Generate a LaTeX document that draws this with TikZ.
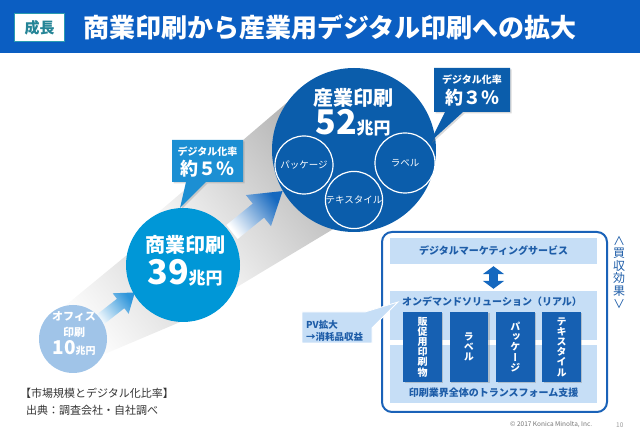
\documentclass[tikz,border=0pt]{standalone}
\usepackage{fontspec}
\setmainfont{Noto Sans CJK JP}
\newfontfamily\vertjp{Noto Sans CJK JP}[RawFeature=+vert]
\usetikzlibrary{positioning, shadows, arrows.meta}
\definecolor{hdrblue}{HTML}{0B5EC2}
\definecolor{tagteal}{HTML}{2A9BB0}
\definecolor{officeblue}{HTML}{A0C4E8}
\definecolor{commblue}{HTML}{0097D7}
\definecolor{indblue}{HTML}{0B5DAB}
\definecolor{callfive}{HTML}{1C8FD3}
\definecolor{panelframe}{HTML}{1A62B8}
\definecolor{panellight}{HTML}{C6DEF6}
\definecolor{itemblue}{HTML}{1660B2}
\definecolor{textblue}{HTML}{1E5DA8}
\definecolor{arrowone}{HTML}{2E95DA}
\definecolor{arrowtwo}{HTML}{1568BF}
\newcommand\fsz[1]{\fontsize{#1}{#1}\selectfont}

\begin{document}
\begin{tikzpicture}[
    x = 1pt, y = -1pt,
    market/.style = {
      circle, inner sep = 0pt
    },
    segment/.style = {
      circle, draw = white, line width = 1.2pt, fill = indblue,
      inner sep = 0pt, text = white, font = \fsz{9.5}
    },
    mtext/.style = {
      text = white, inner sep = 0pt, font = \bfseries\fsz{#1}
    },
    callout/.style = {
      drop shadow = {opacity = .3, shadow xshift = 1.5pt, shadow yshift = -1.5pt}
    },
    panelbar/.style = {
      fill = panellight, draw = none, inner sep = 0pt, minimum width = 207pt
    },
    paneltext/.style = {
      text = textblue, inner sep = 0pt, font = \bfseries\fsz{10}
    },
    itembox/.style = {
      fill = itemblue, inner sep = 0pt, minimum width = 38.5pt, minimum height = 70pt,
      text = white, align = center, font = \vertjp\bfseries\fontsize{10}{10.2}\selectfont,
      drop shadow = {opacity = .35, shadow xshift = 1.5pt, shadow yshift = -1.5pt}
    },
    beam/.style = {
      left color = white, right color = black!#1, shading angle = 128
    },
    flow/.style = {
      left color = white, right color = #1, shading angle = 128
    },
    ]
\useasboundingbox (0,0) rectangle (640,443);

% header
\fill [hdrblue] (0,0) rectangle (640,53);
\node [draw = tagteal, line width = 1.5pt, fill = white, minimum width = 50pt, minimum height = 28pt,
  inner sep = 0pt, text = tagteal!85!black, font = \bfseries\fsz{15}] (tag) at (39.5,27.5) {成長};
\node [anchor = west, inner sep = 0pt, text = white, font = \bfseries\fsz{26}] (title) at (83,27) {商業印刷から産業用デジタル印刷への拡大};

% beams behind the circles
\shade [beam = 18] (60,310) -- (133,250) -- (225,303) -- (100,356) -- cycle;
\shade [beam = 30] (140,228) -- (290,100) -- (335,228) -- (232,290) -- cycle;

% growth arrows
\begin{scope}[shift = {(97,322)}, rotate = 38]
  \shade [flow = arrowone] (0,-6) -- (30,-6) -- (30,-13) -- (48,0) -- (30,13) -- (30,6) -- (0,6) -- cycle;
\end{scope}
\begin{scope}[shift = {(232,232)}, rotate = 39]
  \shade [flow = arrowtwo] (0,-9) -- (34,-9) -- (34,-20) -- (65,0) -- (34,20) -- (34,9) -- (0,9) -- cycle;
\end{scope}

% markets
\node [market, fill = officeblue, minimum size = 68pt] (office) at (73,339) {};
\node [market, fill = commblue, minimum size = 114pt] (comm) at (183,265) {};
\node [market, fill = indblue, minimum size = 164pt] (ind) at (354,150) {};

\node [segment, minimum size = 58pt] (pkg) at (304,165) {パッケージ};
\node [segment, minimum size = 56pt] (tex) at (354,200) {テキスタイル};
\node [segment, minimum size = 60pt] (lbl) at (405,163) {ラベル};

\node [mtext = 11] (office_a) at (74,317) {オフィス};
\node [mtext = 11] (office_b) at (74,332) {印刷};
\node [mtext = 19] (office_c) at (74,348) {10\fsz{10}兆円};

\node [mtext = 20] (comm_a) at (185,245) {商業印刷};
\node [mtext = 34] (comm_b) at (185,273) {39\fsz{17}兆円};

\node [mtext = 20] (ind_a) at (353,98) {産業印刷};
\node [mtext = 34] (ind_b) at (353,123) {52\fsz{17}兆円};

% digital ratio callouts
\fill [callfive, callout] (172,140) -- (243,140) -- (243,182) -- (206,182) -- (180,208) -- (186,182) -- (172,182) -- cycle;
\node [mtext = 10] (ratio5_a) at (207.5,152) {デジタル化率};
\node [mtext = 18] (ratio5_b) at (207.5,169) {約５％};

\fill [indblue, callout] (434,68) -- (510,68) -- (510,112) -- (463,112) -- (430,142) -- (445,112) -- (434,112) -- cycle;
\node [mtext = 10] (ratio3_a) at (472,80) {デジタル化率};
\node [mtext = 18] (ratio3_b) at (472,98) {約３％};

% acquisition panel
\node [draw = panelframe, line width = 2pt, rounded corners = 10pt, fill = white,
  minimum width = 225pt, minimum height = 180pt] (panel) at (494.5,322) {};
\node [panelbar, minimum height = 26pt] (dms) at (493.5,251) {};
\node [paneltext] (dms_t) at (dms) {デジタルマーケティングサービス};
\node [panelbar, minimum height = 49pt] (ondemand) at (493.5,315.5) {};
\node [panelbar, minimum height = 58pt] (transform) at (493.5,374) {};
\draw [arrowtwo, line width = 9pt, {Triangle[width = 21pt, length = 8pt]}-{Triangle[width = 21pt, length = 8pt]},
  shorten < = 2pt, shorten > = 2pt] (dms.south) -- (ondemand.north);
\node [paneltext, anchor = west] (ondemand_t) at (402,302) {オンデマンドソリューション（リアル）};
\node [paneltext] (transform_t) at (493.5,393) {印刷業界全体のトランスフォーム支援};

\node [itembox] (promo) at (422.5,347) {販\\促\\用\\印\\刷\\物};
\node [itembox] (label) [right = 7.5pt of promo] {ラ\\ベ\\ル};
\node [itembox] (package) [right = 7.5pt of label] {パ\\ッ\\ケ\\ー\\ジ};
\node [itembox] (textile) [right = 7.5pt of package] {テ\\キ\\ス\\タ\\イ\\ル};

\node [text = textblue, inner sep = 0pt, align = center,
  font = \vertjp\fontsize{12}{12.6}\selectfont] (synergy) at (619,272) {∧\\買\\収\\効\\果\\∨};

% PV callout
\fill [panellight, draw = white, line width = .8pt] (302,312) -- (365,312) -- (398,302) -- (372,328) -- (372,343) -- (302,343) -- cycle;
\node [paneltext, anchor = west, font = \bfseries\fsz{9.5}] (pv_a) at (306,325) {PV拡大};
\node [paneltext, anchor = west, font = \bfseries\fsz{9.5}] (pv_b) at (306,337) {→消耗品収益};

% notes
\node [anchor = west, inner sep = 0pt, text = black!80, font = \fsz{11}] (note) at (20,393) {【市場規模とデジタル化比率】};
\node [anchor = west, inner sep = 0pt, text = black!80, font = \fsz{11}] (source) at (26,410) {出典：調査会社・自社調べ};
\node [anchor = west, inner sep = 0pt, text = black!55, font = \fsz{6.5}] (copy) at (510,425) {© 2017 Konica Minolta, Inc.};
\node [anchor = west, inner sep = 0pt, text = black!40, font = \fsz{6.5}] (pageno) at (616,425) {10};
\end{tikzpicture}
\end{document}
